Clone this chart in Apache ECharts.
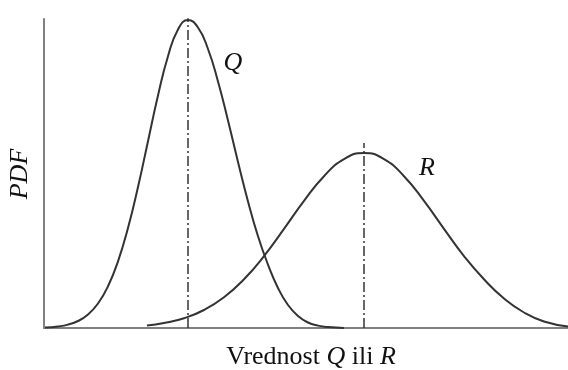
<!DOCTYPE html>
<html>
<head>
<meta charset="utf-8">
<script src="https://cdn.jsdelivr.net/npm/echarts@6/dist/echarts.min.js"></script>
<style>html,body{margin:0;padding:0;background:#fff;}#c{width:568px;height:370px;}</style>
</head>
<body>
<div id="c"></div>
<script>
// Values (arbitrary value units)
const qCurve = [[1,0.5],[14,1.6],[24,3.4],[34,7],[44,13.5],[54,24.5],[64,41.7],[74,66.6],[84,100],[94,141],[104,186.8],[114,232.5],[124,271.8],[134,298.5],[144,308],[154,300.5],[164,279],[174,246.6],[184,207.5],[194,166.1],[204,126.6],[214,91.8],[224,63.4],[234,40],[244,23],[254,12],[264,5.5],[274,2.4],[284,0.9],[300,0]];
const rCurve = [[103,2.5],[120,5],[140,9.8],[160,18],[180,30.7],[200,48.7],[220,71.9],[240,99.1],[260,127.1],[280,151.8],[300,168.9],[320,175],[340,168.9],[360,151.8],[380,127.1],[400,99.1],[420,71.9],[440,48.7],[460,29.5],[480,15.5],[500,6.5],[524,1.5]];
const qMean = [[144,0],[144,316]];
const rMean = [[320,0],[320,185]];
const labels = {q: 'Q', r: 'R', y: 'PDF', xPre: 'Vrednost ', xMid: ' ili '};

const chart = echarts.init(document.getElementById('c'), null, {renderer: 'canvas'});
const serif = '"Liberation Serif", "Times New Roman", serif';
const curveStyle = {color: '#333', width: 2};
const dashStyle = {color: '#333', width: 1.5, type: [10, 3, 2, 3]};
chart.setOption({
  animation: false,
  grid: {left: 44, right: 0, top: 19, bottom: 42},
  xAxis: {type: 'value', min: 0, max: 524, axisLine: {show: true, lineStyle: {color: '#808080', width: 2}}, axisTick: {show: false}, axisLabel: {show: false}, splitLine: {show: false}},
  yAxis: {type: 'value', min: 0, max: 309, axisLine: {show: true, lineStyle: {color: '#808080', width: 2}}, axisTick: {show: false}, axisLabel: {show: false}, splitLine: {show: false}},
  series: [
    {type: 'line', data: qCurve, smooth: true, symbol: 'none', lineStyle: curveStyle},
    {type: 'line', data: rCurve, smooth: true, symbol: 'none', lineStyle: curveStyle},
    {type: 'line', data: qMean, symbol: 'none', lineStyle: dashStyle},
    {type: 'line', data: rMean, symbol: 'none', lineStyle: dashStyle}
  ],
  graphic: [
    {type: 'text', x: 233, y: 63, style: {text: labels.q, font: 'italic 26px ' + serif, fill: '#111', align: 'center', verticalAlign: 'middle'}},
    {type: 'text', x: 427, y: 168, style: {text: labels.r, font: 'italic 26px ' + serif, fill: '#111', align: 'center', verticalAlign: 'middle'}},
    {type: 'text', x: 20, y: 174, rotation: Math.PI / 2, style: {text: labels.y, font: 'italic 26px ' + serif, fill: '#111', align: 'center', verticalAlign: 'middle'}},
    {type: 'text', x: 311, y: 357, style: {
      text: '{n|' + labels.xPre + '}{i|' + labels.q + '}{n|' + labels.xMid + '}{i|' + labels.r + '}',
      align: 'center', verticalAlign: 'middle',
      rich: {n: {font: '26px ' + serif, fill: '#111'}, i: {font: 'italic 26px ' + serif, fill: '#111'}}
    }}
  ]
});
</script>
</body>
</html>
